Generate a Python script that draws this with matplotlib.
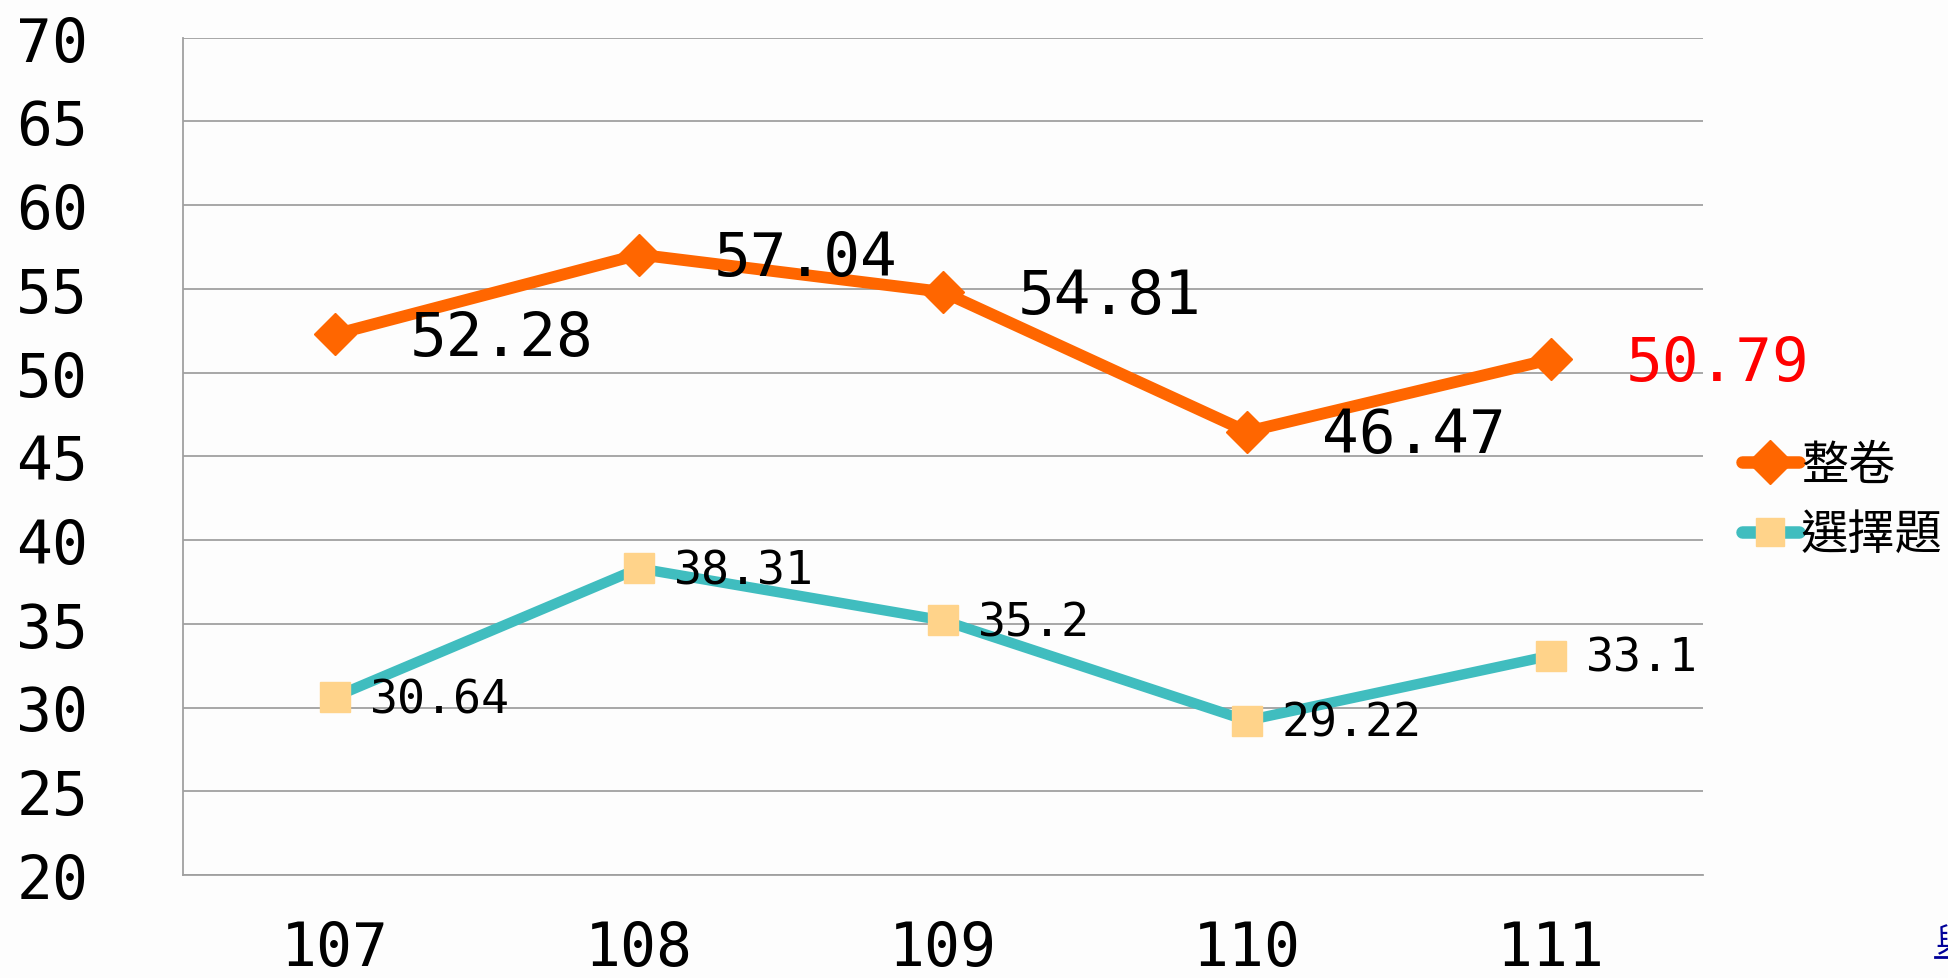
import matplotlib.pyplot as plt
import matplotlib.lines as mlines

plt.rcParams['font.family'] = ['DejaVu Sans Mono', 'Noto Sans CJK TC']

years = ['107', '108', '109', '110', '111']
whole = [52.28, 57.04, 54.81, 46.47, 50.79]
choice = [30.64, 38.31, 35.2, 29.22, 33.1]
whole_name = '整卷'
choice_name = '選擇題'

orange = '#FF6600'
cyan = '#40BDBF'
sq_color = '#FFD38A'

W, H = 1949, 979
fig = plt.figure(figsize=(W / 100, H / 100), dpi=100)
fig.patch.set_facecolor('#FDFDFD')
ax = fig.add_axes([183 / W, 1 - 876 / H, (1703 - 183) / W, (876 - 38.5) / H])
ax.set_facecolor('#FDFDFD')

x = list(range(len(years)))
ax.plot(x, whole, color=orange, lw=8.5, marker='D', ms=21, mfc=orange, mec=orange,
        solid_joinstyle='round', zorder=3)
ax.plot(x, choice, color=cyan, lw=7.5, marker='s', ms=21, mfc=sq_color, mec=sq_color,
        zorder=3)

ax.set_xlim(-0.5, 4.5)
ax.set_ylim(20, 70)
ax.set_yticks(range(20, 71, 5))
ax.set_xticks(x)
ax.set_xticklabels(years)
ax.tick_params(axis='y', length=0, labelsize=43)
ax.tick_params(axis='x', length=0, pad=32, labelsize=43)
for lab in ax.get_yticklabels():
    lab.set_horizontalalignment('left')
ax.yaxis.set_tick_params(pad=120)

ax.grid(axis='y', color='#A0A0A0', lw=1.3)
ax.set_axisbelow(True)
for s in ['top', 'right']:
    ax.spines[s].set_visible(False)
for s in ['left', 'bottom']:
    ax.spines[s].set_color('#A0A0A0')
    ax.spines[s].set_linewidth(1.3)

# data labels (offsets in points)
for i, v in enumerate(whole):
    ax.annotate(f'{v:g}', (i, v), xytext=(54, -3), textcoords='offset points',
                ha='left', va='center', fontsize=44,
                color='red' if i == len(whole) - 1 else 'black', zorder=4)
for i, v in enumerate(choice):
    ax.annotate(f'{v:g}', (i, v), xytext=(25, -2), textcoords='offset points',
                ha='left', va='center', fontsize=33.5, color='black', zorder=4)

h1 = mlines.Line2D([], [], color=orange, lw=9, marker='D', ms=22, solid_capstyle='round')
h2 = mlines.Line2D([], [], color=cyan, lw=9, marker='s', ms=20, mfc=sq_color, mec=sq_color,
                   solid_capstyle='round')
fig.legend([h1, h2], [whole_name, choice_name], loc='center left',
           bbox_to_anchor=(1742 / W, 1 - 501 / H), frameon=False,
           handlelength=1.2, handletextpad=0.05, labelspacing=0.45, borderaxespad=0,
           borderpad=0, prop={'family': 'Noto Sans CJK TC', 'size': 34})

# clipped link text at the bottom-right edge
fig.text(1935 / W, 1 - 952 / H, '與', color='#000099', fontsize=24,
         family='Noto Sans CJK TC', ha='left', va='baseline')
fig.add_artist(mlines.Line2D([1935 / W, 1], [1 - 958 / H] * 2, color='#000099', lw=2))

fig.savefig('out.png', dpi=100, facecolor=fig.get_facecolor())
